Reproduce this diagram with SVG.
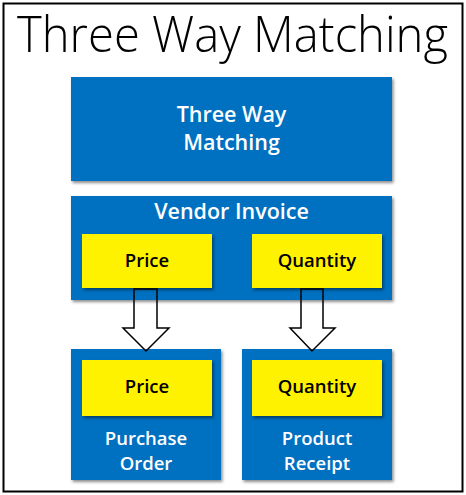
<svg xmlns="http://www.w3.org/2000/svg" width="466" height="495" viewBox="0 0 466 495">
<defs>
<filter id="sh" x="-10%" y="-10%" width="130%" height="130%">
<feDropShadow dx="1.5" dy="2" stdDeviation="1.5" flood-color="#000" flood-opacity="0.45"/>
</filter>
</defs>
<style>
.blue{fill:#0070C0;filter:url(#sh);}
.yel{fill:#FFF200;filter:url(#sh);}
.wt{fill:#fff;font-family:"Open Sans","Segoe UI",sans-serif;font-weight:600;font-size:21.5px;text-anchor:middle;}
.ws{fill:#fff;font-family:"Open Sans","Segoe UI",sans-serif;font-weight:600;font-size:18.5px;text-anchor:middle;}
.bt{fill:#000;font-family:"Open Sans","Segoe UI",sans-serif;font-weight:600;font-size:18.5px;text-anchor:middle;}
.arr{fill:none;stroke:#000;stroke-width:1.5;stroke-linejoin:miter;}
</style>
<rect x="0" y="0" width="466" height="495" fill="#fff"/>
<rect x="3.5" y="3.5" width="459" height="488" fill="none" stroke="#000" stroke-width="2"/>
<text x="232.5" y="52" font-family="'Open Sans','Segoe UI',sans-serif" font-weight="300" font-size="49" text-anchor="middle" fill="#000" textLength="431" lengthAdjust="spacingAndGlyphs">Three Way Matching</text>
<g id="top">
<rect class="blue" x="71" y="77" width="321" height="104"/>
<text class="wt" x="231.5" y="122">Three Way</text>
<text class="wt" x="231.5" y="150">Matching</text>
</g>
<g id="vendor">
<rect class="blue" x="71" y="196" width="321" height="104"/>
<text class="wt" x="231.5" y="219">Vendor Invoice</text>
</g>
<g id="vprice">
<rect class="yel" x="82" y="234" width="130" height="54"/>
<text class="bt" x="147" y="267">Price</text>
</g>
<g id="vqty">
<rect class="yel" x="252" y="234" width="130" height="54"/>
<text class="bt" x="317" y="267">Quantity</text>
</g>
<g id="po">
<rect class="blue" x="71" y="349" width="150" height="131"/>
<rect class="yel" x="82" y="360" width="130" height="56"/>
<text class="bt" x="147" y="393">Price</text>
<text class="ws" x="146" y="445">Purchase</text>
<text class="ws" x="146" y="470">Order</text>
</g>
<g id="pr">
<rect class="blue" x="242" y="349" width="150" height="131"/>
<rect class="yel" x="252" y="360" width="130" height="56"/>
<text class="bt" x="317" y="393">Quantity</text>
<text class="ws" x="317" y="445">Product</text>
<text class="ws" x="317" y="470">Receipt</text>
</g>
<g id="connectors">
<polygon class="arr" points="134,289 157,289 157,328 169,328 146,351 123,328 134,328"/>
<polygon class="arr" points="301,289 323,289 323,328 335,328 312,351 290,328 301,328"/>
</g>
</svg>
